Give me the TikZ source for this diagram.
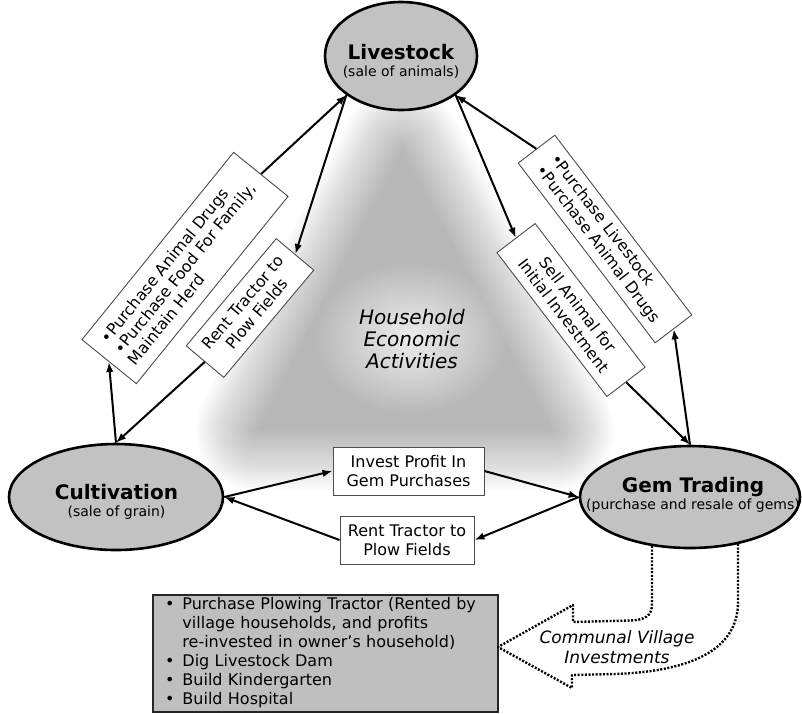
\documentclass[tikz,border=0pt]{standalone}
\usepackage{fontspec}
\setmainfont{DejaVu Sans}
\usetikzlibrary{shapes.geometric,arrows.meta,fadings}
\definecolor{hubgray}{gray}{0.76}
\definecolor{boxgray}{gray}{0.75}
\definecolor{boxedge}{gray}{0.3}
\tikzfading[name=softspot, inner color=transparent!0, outer color=transparent!100]
\begin{document}
\begin{tikzpicture}[x=1pt,y=-1pt,
  hub/.style={ellipse, draw=black, line width=2.6pt, fill=hubgray, inner sep=0pt},
  hubtitle/.style={anchor=base, inner sep=0pt, font=\fontsize{20}{22}\selectfont\bfseries},
  hubsub/.style={anchor=base, inner sep=0pt, font=\fontsize{14}{16}\selectfont},
  rotbox/.style={rectangle, draw=boxedge, line width=0.9pt, fill=white, inner sep=0pt},
  flatbox/.style={rectangle, draw=boxedge, line width=1pt, fill=white, inner sep=0pt, align=center, font=\fontsize{16}{19}\selectfont},
  commbox/.style={rectangle, draw=black!85, line width=2pt, fill=boxgray, inner xsep=12pt, inner ysep=1pt, align=left, font=\fontsize{16}{19}\selectfont},
  conn/.style={line width=2pt, -{Latex[length=10pt,width=7.5pt]}},
  dotline/.style={line width=2.4pt, dash pattern=on 2pt off 1.6pt, line join=round},
]
\useasboundingbox (0,0) rectangle (802,713);

% soft shaded triangle in the background
\coordinate (ctop) at (402,148);
\coordinate (cbl) at (256,430);
\coordinate (cbr) at (554,430);
\foreach \w in {0,6,...,120}{
  \begin{scope}[transparency group, opacity=0.0145]
    \filldraw[black, line width=\w pt, line join=round] (ctop) -- (cbl) -- (cbr) -- cycle;
  \end{scope}
}
\coordinate (spot) at (410,338);
\fill[white, path fading=softspot, fill opacity=0.75] (spot) ellipse (95pt and 75pt);

% central label
\node[font=\fontsize{20}{22}\selectfont\itshape, align=center, inner sep=0pt] (hea) at (412,339) {Household\\Economic\\Activities};

% hubs
\node[hub, minimum width=152pt, minimum height=108pt] (live) at (401,56) {};
\node[hubtitle] (live-t) at (401,59) {Livestock};
\node[hubsub] (live-s) at (401,76) {(sale of animals)};

\node[hub, minimum width=214pt, minimum height=106pt] (cult) at (116,497) {};
\node[hubtitle] (cult-t) at (116.5,499) {Cultivation};
\node[hubsub] (cult-s) at (116.5,516) {(sale of grain)};

\node[hub, minimum width=220pt, minimum height=102pt] (gem) at (690,497) {};
\node[hubtitle] (gem-t) at (693,492) {Gem Trading};
\node[hubsub] (gem-s) at (693,509) {(purchase and resale of gems)};

% rotated boxes
\node[rotbox, rotate=51, minimum width=241pt, minimum height=70pt, align=left, font=\fontsize{15.8}{17.5}\selectfont] (b1) at (185,268)
  {•Purchase Animal Drugs\\•Purchase Food For Family,\\Maintain Herd};
\node[rotbox, rotate=50, minimum width=140pt, minimum height=49pt, align=center, font=\fontsize{15.8}{18}\selectfont] (b2) at (250,308)
  {Rent Tractor to\\Plow Fields};
\node[rotbox, rotate=-52.7, minimum width=226pt, minimum height=46pt, align=left, font=\fontsize{15.8}{18}\selectfont] (b3) at (605,239)
  {•Purchase Livestock\\•Purchase Animal Drugs};
\node[rotbox, rotate=-52.6, minimum width=181pt, minimum height=48pt, align=center, font=\fontsize{15.8}{18}\selectfont] (b4) at (571,310)
  {Sell Animal for\\Initial Investment};

% flat boxes
\node[flatbox, minimum width=151pt, minimum height=48pt] (inv) at (408.5,471) {Invest Profit In\\Gem Purchases};
\node[flatbox, minimum width=134pt, minimum height=48pt] (rent) at (407,540) {Rent Tractor to\\Plow Fields};

% connectors
\draw[conn] (cult.north) -- (b1.west);
\draw[conn] (b1.east) -- (live.south west);
\draw[conn] (live.south west) -- (b2.east);
\draw[conn] (b2.west) -- (cult.north);
\draw[conn] (gem.north) -- (b3.east);
\draw[conn] (b3.west) -- (live.south east);
\draw[conn] (live.south east) -- (b4.west);
\draw[conn] (b4.east) -- (gem.north);
\draw[conn] (cult.east) -- (inv.west);
\draw[conn] (inv.east) -- (gem.west);
\draw[conn] (gem.west) -- (rent.east);
\draw[conn] (rent.west) -- (cult.east);

% communal investments box
\node[commbox, minimum width=345pt, minimum height=117pt, text width=321pt] (comm) at (325.5,653.5)
 {\begin{tabular}{@{}l@{\hspace{8pt}}l@{}}
  • & Purchase Plowing Tractor (Rented by\\
    & village households, and profits\\
    & re-invested in owner’s household)\\
  • & Dig Livestock Dam\\
  • & Build Kindergarten\\
  • & Build Hospital
  \end{tabular}};

% dotted hollow arrow
\draw[dotline] (652,546) -- (652,604) .. controls (652,616) and (645,620) .. (630,620.5) -- (573,622) -- (573,605)
  -- (498,647) -- (572,688) -- (572,675) -- (615,674) .. controls (700,671) and (738,645) .. (738,602) -- (738,544);
\node[font=\fontsize{17}{20}\selectfont\itshape, align=center, inner sep=0pt] (cvi) at (617,647) {Communal Village\\Investments};
\end{tikzpicture}
\end{document}
